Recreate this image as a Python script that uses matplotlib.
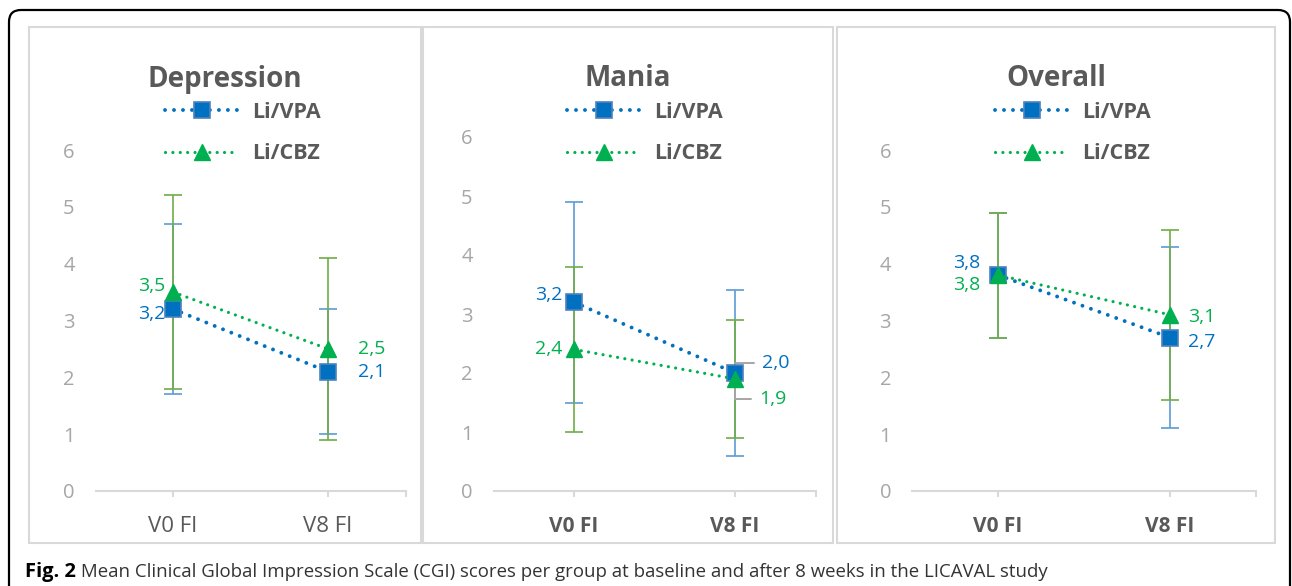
import matplotlib
matplotlib.use("Agg")
from matplotlib import pyplot as plt
from matplotlib.patches import FancyBboxPatch, Rectangle
from matplotlib.ticker import FixedLocator

plt.rcParams["font.family"] = ["Open Sans", "DejaVu Sans"]

# ---- data ----
categories = ["V0 FI", "V8 FI"]
panel_titles = ["Depression", "Mania", "Overall"]
series_names = ["Li/VPA", "Li/CBZ"]

vpa_mean = [[3.2, 2.1], [3.2, 2.0], [3.8, 2.7]]
vpa_low = [[1.7, 1.0], [1.5, 0.6], [2.7, 1.1]]
vpa_high = [[4.7, 3.2], [4.9, 3.4], [4.9, 4.3]]

cbz_mean = [[3.5, 2.5], [2.4, 1.9], [3.8, 3.1]]
cbz_low = [[1.8, 0.9], [1.0, 0.9], [2.7, 1.6]]
cbz_high = [[5.2, 4.1], [3.8, 2.9], [4.9, 4.6]]

caption_bold = "Fig. 2"
caption_text = (" Mean Clinical Global Impression Scale (CGI) scores per group "
                "at baseline and after 8 weeks in the LICAVAL study")

# ---- layout (pixels) ----
W, H = 1292, 586
DPI = 100
# chart frames: left, top, right, bottom
frames = [(29, 27, 421, 543), (423, 27, 833, 543), (837, 27, 1275, 543)]
# plot areas: x at -0.5, x at 1.5, y pixel of 0, y pixel of 6
plots = [(95.5, 405.5, 491, 150), (493.5, 815.5, 491, 137), (912, 1256, 491, 150)]
legend_left = [165, 567, 995]
# label offsets in pixels: (ha, dx, dy) for vpa V0, vpa V8, cbz V0, cbz V8
label_pos = [
    [("right", -8, -5), ("left", 30, 0), ("right", -8, 6), ("left", 30, 0)],
    [("right", -12, 7), ("left", 27, 10), ("right", -12, 0), ("left", 24, -20)],
    [("right", -18, 12), ("left", 18, -4), ("right", -18, -10), ("left", 18, -2)],
]
leaders = [False, True, False]

BLUE = "#0070C0"
BLUE_EDGE = "#4F81BD"
BLUE_ERR = "#5B9BD5"
GREEN = "#00B050"
GREEN_ERR = "#70AD47"
DARK = "#595959"
LIGHT = "#A6A6A6"
FRAME = "#D9D9D9"

fig = plt.figure(figsize=(W / DPI, H / DPI), dpi=DPI)


def fmt(v):
    return f"{v:.1f}".replace(".", ",")


# outer rounded frame
outer = FancyBboxPatch((9 / DPI, -0.5), (1290 - 9) / DPI, (H - 10) / DPI + 0.5,
                       boxstyle="round,pad=0,rounding_size=0.12",
                       transform=fig.dpi_scale_trans, fill=False,
                       edgecolor="black", linewidth=1.6, clip_on=False)
fig.patches.append(outer)

for i in range(3):
    l, t, r, b = frames[i]
    fig.patches.append(Rectangle((l / DPI, (H - b) / DPI), (r - l) / DPI, (b - t) / DPI,
                                 transform=fig.dpi_scale_trans, fill=False,
                                 edgecolor=FRAME, linewidth=1.5))

    x0, x1, y0, y6 = plots[i]
    ax = fig.add_axes([x0 / W, 1 - y0 / H, (x1 - x0) / W, (y0 - y6) / H])
    ax.set_xlim(-0.5, 1.5)
    ax.set_ylim(0, 6)
    ax.patch.set_alpha(0)
    xs = list(range(len(categories)))

    ax.errorbar(xs, vpa_mean[i],
                yerr=[[m - lo for m, lo in zip(vpa_mean[i], vpa_low[i])],
                      [hi - m for m, hi in zip(vpa_mean[i], vpa_high[i])]],
                fmt="none", ecolor=BLUE_ERR, elinewidth=1.2, capsize=6.5, capthick=1.2)
    ax.errorbar(xs, cbz_mean[i],
                yerr=[[m - lo for m, lo in zip(cbz_mean[i], cbz_low[i])],
                      [hi - m for m, hi in zip(cbz_mean[i], cbz_high[i])]],
                fmt="none", ecolor=GREEN_ERR, elinewidth=1.2, capsize=6.5, capthick=1.2)

    l1, = ax.plot(xs, vpa_mean[i], color=BLUE, lw=2.8, linestyle=(0, (0.01, 2.3)),
                  dash_capstyle="round", marker="s", markersize=11,
                  markerfacecolor=BLUE, markeredgecolor=BLUE_EDGE, markeredgewidth=1.2,
                  label=series_names[0])
    l2, = ax.plot(xs, cbz_mean[i], color=GREEN, lw=2.3, linestyle=(0, (0.01, 2.3)),
                  dash_capstyle="round", marker="^", markersize=12,
                  markerfacecolor=GREEN, markeredgecolor=GREEN, label=series_names[1])

    # data labels
    for j in range(2):
        for k, (vals, col) in enumerate([(vpa_mean[i], BLUE), (cbz_mean[i], GREEN)]):
            ha, dx, dy = label_pos[i][j + 2 * k]
            kw = {}
            if leaders[i] and j == 1:
                kw["arrowprops"] = dict(arrowstyle="-", color=LIGHT, lw=1.4,
                                        relpos=(0, 0.5), shrinkA=4, shrinkB=7,
                                        connectionstyle="angle,angleA=0,angleB=90,rad=0")
            ax.annotate(fmt(vals[j]), xy=(xs[j], vals[j]), xytext=(dx, dy),
                        textcoords="offset pixels", ha=ha, va="center",
                        color=col, fontsize=14, **kw)

    for s in ["top", "right", "left"]:
        ax.spines[s].set_visible(False)
    ax.spines["bottom"].set_color(FRAME)
    ax.spines["bottom"].set_linewidth(1.5)
    ax.set_yticks(range(0, 7))
    ax.tick_params(axis="y", length=0, pad=15, labelsize=14.5, labelcolor=LIGHT)
    ax.set_xticks(xs)
    ax.set_xticklabels(categories, fontsize=16 if i == 0 else 15,
                       fontweight="normal" if i == 0 else "bold", color=DARK)
    ax.xaxis.set_minor_locator(FixedLocator([1.5]))
    ax.tick_params(axis="x", which="both", length=4, width=1.5, color=FRAME, pad=14)

    fig.text((l + r) / 2 / W, 1 - 79 / H, panel_titles[i], ha="center", va="center",
             fontsize=20, fontweight="bold", color=DARK)

    leg = ax.legend(handles=[l1, l2], loc="upper left",
                    bbox_to_anchor=(legend_left[i] / W, 1 - 102 / H),
                    bbox_transform=fig.transFigure, frameon=False, numpoints=1,
                    handlelength=3.4, handletextpad=0.65, labelspacing=0.95,
                    borderpad=0, borderaxespad=0,
                    prop={"size": 15.5, "weight": "bold"})
    for txt in leg.get_texts():
        txt.set_color(DARK)

t1 = fig.text(25 / W, 1 - 577 / H, caption_bold, fontsize=14.5, fontweight="bold",
              color="black", va="baseline")
fig.canvas.draw()
bb = t1.get_window_extent()
fig.text(bb.x1 / W, 1 - 577 / H, caption_text, fontsize=13.4, color="#333333",
         va="baseline")

fig.savefig("out.png", dpi=DPI)
